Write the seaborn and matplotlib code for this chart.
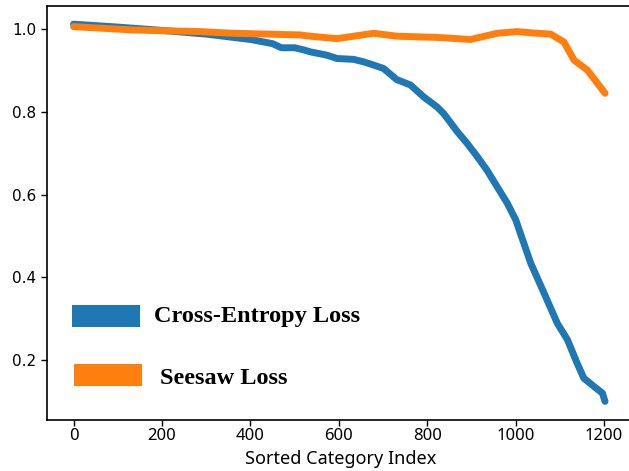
import matplotlib
matplotlib.use("Agg")
import matplotlib.pyplot as plt
from matplotlib.patches import Rectangle
import seaborn as sns
import pandas as pd

# Cross-Entropy Loss curve (sorted category index, value)
ce_x = [0, 100, 200, 300, 400, 450, 470, 500, 520, 536, 573, 596, 633, 656, 679, 701,
        731, 762, 792, 822, 837, 868, 890, 913, 935, 958, 981, 1000, 1011, 1034, 1064,
        1094, 1117, 1139, 1154, 1177, 1196, 1202]
ce_y = [1.012, 1.005, 0.997, 0.988, 0.975, 0.965, 0.955, 0.955, 0.950, 0.945, 0.937, 0.929,
        0.927, 0.921, 0.913, 0.905, 0.878, 0.865, 0.836, 0.812, 0.796, 0.752, 0.724, 0.692,
        0.659, 0.619, 0.579, 0.539, 0.505, 0.434, 0.362, 0.289, 0.249, 0.192, 0.156, 0.136,
        0.120, 0.100]

# Seesaw Loss curve
ss_x = [0, 135, 286, 361, 437, 512, 535, 596, 679, 731, 822, 898, 958, 1003, 1049, 1079,
        1109, 1132, 1162, 1185, 1202]
ss_y = [1.006, 0.998, 0.994, 0.990, 0.988, 0.986, 0.983, 0.977, 0.990, 0.983, 0.980, 0.975,
        0.990, 0.994, 0.990, 0.988, 0.969, 0.925, 0.901, 0.869, 0.845]

legend_labels = ["Cross-Entropy Loss", "Seesaw Loss"]
xticks = [0, 200, 400, 600, 800, 1000, 1200]
yticks = [0.2, 0.4, 0.6, 0.8, 1.0]

sns.set_style("white")
plt.rcParams['font.family'] = ['DejaVu Sans']
plt.rcParams['text.color'] = 'black'

blue = "#1f77b4"
orange = "#ff7f0e"

fig = plt.figure(figsize=(6.29, 4.71), dpi=100)
ax = fig.add_axes([0.0747, 0.1083, 0.935, 0.879])

df_ce = pd.DataFrame({"x": ce_x, "y": ce_y})
df_ss = pd.DataFrame({"x": ss_x, "y": ss_y})
sns.lineplot(data=df_ce, x="x", y="y", ax=ax, color=blue, linewidth=5)
sns.lineplot(data=df_ss, x="x", y="y", ax=ax, color=orange, linewidth=5)

ax.set_xlim(-60, 1270)
ax.set_ylim(0.055, 1.056)
ax.set_xticks(xticks)
ax.set_yticks(yticks)
ax.tick_params(axis="both", colors="black", length=4, width=1, direction="out",
               bottom=True, left=True)
ax.tick_params(axis="y", labelsize=11)
ax.tick_params(axis="x", labelsize=12, pad=2)
for lab in ax.get_xticklabels():
    lab.set_family("Noto Sans")
for lab in ax.get_yticklabels():
    lab.set_family("DejaVu Sans")
ax.set_xlabel("Sorted Category Index", fontsize=13, color="black", family="Noto Sans",
              labelpad=4)
ax.set_ylabel("")
for s in ax.spines.values():
    s.set_color("black")
    s.set_linewidth(1.2)

# legend (drawn manually, as in the reference)
fig.add_artist(Rectangle((0.1145, 0.3064), 0.108, 0.046, transform=fig.transFigure,
                         facecolor=blue, edgecolor="none"))
fig.add_artist(Rectangle((0.1176, 0.1811), 0.108, 0.046, transform=fig.transFigure,
                         facecolor=orange, edgecolor="none"))
fig.text(0.2448, 0.317, legend_labels[0], fontsize=17.5, fontweight="bold",
         family="Liberation Serif", va="baseline", ha="left", color="black")
fig.text(0.2544, 0.1847, legend_labels[1], fontsize=17.5, fontweight="bold",
         family="Liberation Serif", va="baseline", ha="left", color="black")

fig.savefig("out.png", dpi=100)
